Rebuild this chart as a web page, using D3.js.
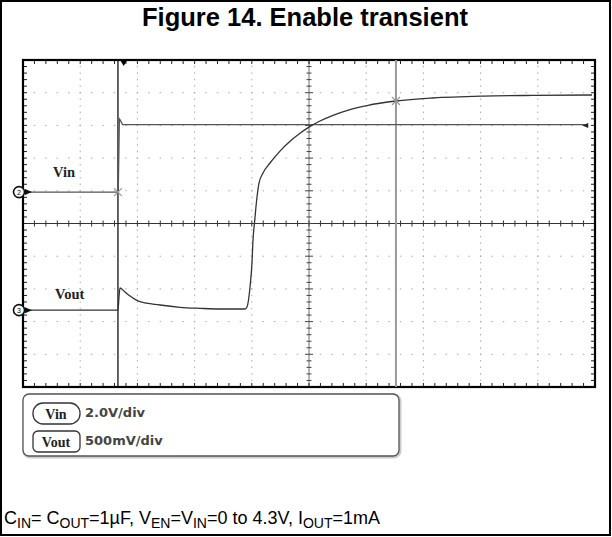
<!DOCTYPE html>
<html><head><meta charset="utf-8">
<script src="https://cdn.jsdelivr.net/npm/d3@7"></script>
<style>
html,body{margin:0;padding:0;background:#fff;}
svg{display:block;}
</style></head>
<body>
<script>
// ---- data (time in scope divisions, voltages in volts) ----
const title = "Figure 14. Enable transient";
const vinTime  = [0, 1.665, 1.685, 1.70, 1.74, 9.83];
const vinVolts = [0, 0, 4.47, 4.40, 4.13, 4.13];
const voutTime  = [0, 1.661, 1.678, 1.696, 1.783, 1.871, 2.045, 2.395, 2.745, 3.094, 3.444, 3.881, 3.916, 3.969, 4.003, 4.021, 4.047, 4.091, 4.126, 4.196, 4.318, 4.493, 4.668, 4.843, 5.0, 5.192, 5.42, 5.717, 6.014, 6.521, 7.168, 8.042, 8.916, 9.948];
const voutVolts = [0, 0, 0.20, 0.339, 0.278, 0.216, 0.129, 0.079, 0.044, 0.028, 0.018, 0.018, 0.048, 0.354, 0.721, 1.073, 1.333, 1.730, 1.944, 2.097, 2.25, 2.432, 2.582, 2.706, 2.799, 2.892, 2.979, 3.067, 3.129, 3.198, 3.244, 3.273, 3.284, 3.29];
const channelNames = ["Vin", "Vout"];
const channelScales = ["2.0V/div", "500mV/div"];
const voltsPerDiv = [2.0, 0.5];
const channelOffsetDiv = [0.96, -2.65];
const channelNumbers = ["2", "3"];
const cursorTimes = [1.66, 6.52];
const triggerTime = 1.76;

const W = 612, H = 537;
const svg = d3.select("body").append("svg").attr("width", W).attr("height", H);

// outer frame
svg.append("rect").attr("x", 1).attr("y", 1).attr("width", W - 3).attr("height", H - 3)
  .attr("fill", "none").attr("stroke", "#000").attr("stroke-width", 2);

svg.append("text").attr("x", 305).attr("y", 26).attr("text-anchor", "middle")
  .attr("font-family", "Liberation Sans, Arial, sans-serif").attr("font-weight", "bold")
  .attr("font-size", 25.5).text(title);

// scales
const x = d3.scaleLinear().domain([0, 10]).range([23, 595]);
const yd = d3.scaleLinear().domain([-5, 5]).range([387, 60]);
const chY = (ci, v) => yd(channelOffsetDiv[ci] + v / voltsPerDiv[ci]);

const g = svg.append("g");
// dotted grid
const majors = d3.range(1, 10);
const minorX = d3.range(0, 10.001, 0.2);
const minorY = d3.range(-5, 5.001, 0.2);
majors.filter(d => d !== 5).forEach(d => {
  minorY.forEach(m => g.append("rect").attr("x", x(d) - 0.5).attr("y", yd(m) - 0.75)
    .attr("width", 1).attr("height", 1.5).attr("fill", "#aaa"));
});
d3.range(-4, 5).filter(d => d !== 0).forEach(d => {
  minorX.forEach(m => g.append("rect").attr("x", x(m) - 0.75).attr("y", yd(d) - 0.5)
    .attr("width", 1.5).attr("height", 1).attr("fill", "#aaa"));
});

// centre axes
g.append("line").attr("x1", x(0)).attr("x2", x(10)).attr("y1", yd(0)).attr("y2", yd(0))
  .attr("stroke", "#333").attr("stroke-width", 1.2);
g.append("line").attr("x1", x(5)).attr("x2", x(5)).attr("y1", yd(-5)).attr("y2", yd(5))
  .attr("stroke", "#888").attr("stroke-width", 1.2);
minorX.forEach(m => g.append("line").attr("x1", x(m)).attr("x2", x(m))
  .attr("y1", yd(0) - 3).attr("y2", yd(0) + 3).attr("stroke", "#333").attr("stroke-width", 1));
minorY.forEach(m => {
  const major = Math.abs(m - Math.round(m)) < 1e-6;
  g.append("line").attr("x1", x(5) - (major ? 4 : 2.5)).attr("x2", x(5) + (major ? 4 : 2.5))
    .attr("y1", yd(m)).attr("y2", yd(m)).attr("stroke", "#444").attr("stroke-width", 1);
});

// frame ticks
minorX.forEach(m => {
  g.append("line").attr("x1", x(m)).attr("x2", x(m)).attr("y1", yd(5)).attr("y2", yd(5) + 4)
    .attr("stroke", "#222").attr("stroke-width", 1);
  g.append("line").attr("x1", x(m)).attr("x2", x(m)).attr("y1", yd(-5)).attr("y2", yd(-5) - 4)
    .attr("stroke", "#222").attr("stroke-width", 1);
});
minorY.forEach(m => {
  g.append("line").attr("x1", x(0)).attr("x2", x(0) + 4).attr("y1", yd(m)).attr("y2", yd(m))
    .attr("stroke", "#222").attr("stroke-width", 1);
  g.append("line").attr("x1", x(10)).attr("x2", x(10) - 4).attr("y1", yd(m)).attr("y2", yd(m))
    .attr("stroke", "#222").attr("stroke-width", 1);
});
g.append("rect").attr("x", x(0)).attr("y", yd(5)).attr("width", x(10) - x(0)).attr("height", yd(-5) - yd(5))
  .attr("fill", "none").attr("stroke", "#000").attr("stroke-width", 2.2);

// cursors
g.append("line").attr("x1", x(cursorTimes[0])).attr("x2", x(cursorTimes[0])).attr("y1", yd(5)).attr("y2", yd(-5))
  .attr("stroke", "#111").attr("stroke-width", 1.3);
g.append("line").attr("x1", x(cursorTimes[1])).attr("x2", x(cursorTimes[1])).attr("y1", yd(5)).attr("y2", yd(-5))
  .attr("stroke", "#999").attr("stroke-width", 2);

// trigger marker
const tx = x(triggerTime);
g.append("path").attr("d", `M${tx - 3},${yd(5) + 1}L${tx + 3},${yd(5) + 1}L${tx},${yd(5) + 6}Z`).attr("fill", "#000");

// traces
const vinData = vinTime.map((t, i) => [t, vinVolts[i]]);
const voutData = voutTime.map((t, i) => [t, voutVolts[i]]);
g.append("path").datum(vinData)
  .attr("d", d3.line().x(d => x(d[0])).y(d => chY(0, d[1])))
  .attr("fill", "none").attr("stroke", "#555").attr("stroke-width", 1.3);
g.append("path").datum(voutData)
  .attr("d", d3.line().curve(d3.curveMonotoneX).x(d => x(d[0])).y(d => chY(1, d[1])))
  .attr("fill", "none").attr("stroke", "#333").attr("stroke-width", 1.3);

// end-of-trace arrow on Vin
const ex = x(vinTime[vinTime.length - 1]), ey = chY(0, vinVolts[vinVolts.length - 1]) + 1;
g.append("path").attr("d", `M${ex - 3},${ey}L${ex + 3},${ey - 2.5}L${ex + 3},${ey + 2.5}Z`).attr("fill", "#222");

// cursor crosses
function cross(cx, cy) {
  g.append("path").attr("d", `M${cx - 4},${cy - 4}L${cx + 4},${cy + 4}M${cx - 4},${cy + 4}L${cx + 4},${cy - 4}`)
    .attr("stroke", "#999").attr("stroke-width", 1.2);
}
cross(x(cursorTimes[0]), chY(0, 0));
const vAtCursor = d3.scaleLinear().domain(voutTime).range(voutVolts)(cursorTimes[1]);
cross(x(cursorTimes[1]), chY(1, vAtCursor));

// channel ground markers and labels
[0, 1].forEach(ci => {
  const cy = chY(ci, 0);
  g.append("circle").attr("cx", 19).attr("cy", cy).attr("r", 5.5).attr("fill", "#fff").attr("stroke", "#111").attr("stroke-width", 1.6);
  g.append("text").attr("x", 19).attr("y", cy + 2.5).attr("text-anchor", "middle").attr("font-size", 7)
    .attr("font-family", "Liberation Sans, Arial, sans-serif").text(channelNumbers[ci]);
  g.append("path").attr("d", `M25,${cy - 3}L32,${cy}L25,${cy + 3}Z`).attr("fill", "#111");
});
g.append("text").attr("x", 53).attr("y", 177).attr("font-family", "Liberation Serif, Times New Roman, serif")
  .attr("font-weight", "bold").attr("font-size", 14.5).attr("fill", "#222").text(channelNames[0]);
g.append("text").attr("x", 55).attr("y", 299).attr("font-family", "Liberation Serif, Times New Roman, serif")
  .attr("font-weight", "bold").attr("font-size", 14.5).attr("fill", "#222").text(channelNames[1]);

// legend box
const lg = svg.append("g");
lg.append("rect").attr("x", 24).attr("y", 395).attr("width", 376).attr("height", 62).attr("rx", 6)
  .attr("fill", "none").attr("stroke", "#ccc").attr("stroke-width", 3);
lg.append("rect").attr("x", 23).attr("y", 394).attr("width", 376).attr("height", 62).attr("rx", 6)
  .attr("fill", "#fff").attr("stroke", "#555").attr("stroke-width", 1.3);
const badgeY = [403, 431];
[0, 1].forEach(ci => {
  lg.append("rect").attr("x", 33).attr("y", badgeY[ci]).attr("width", 47).attr("height", 21).attr("rx", ci === 0 ? 10 : 5)
    .attr("fill", "#fff").attr("stroke", "#333").attr("stroke-width", 1.3);
  lg.append("text").attr("x", 56).attr("y", badgeY[ci] + 15.5).attr("text-anchor", "middle")
    .attr("font-family", "Liberation Serif, Times New Roman, serif").attr("font-weight", "bold")
    .attr("font-size", 14).attr("fill", "#222").text(channelNames[ci]);
  lg.append("text").attr("x", 85).attr("y", badgeY[ci] + 14).attr("font-family", "DejaVu Sans, Verdana, sans-serif")
    .attr("font-weight", "bold").attr("font-size", 13).attr("fill", "#444").text(channelScales[ci]);
});

// footnote
const fn = svg.append("text").attr("x", 4).attr("y", 524)
  .attr("font-family", "Liberation Sans, Arial, sans-serif").attr("font-size", 18).attr("fill", "#000");
const parts = [["C", 0], ["IN", 1], ["= C", 0], ["OUT", 1], ["=1\u00b5F, V", 0], ["EN", 1], ["=V", 0], ["IN", 1],
  ["=0 to 4.3V, I", 0], ["OUT", 1], ["=1mA", 0]];
let prevSub = 0;
parts.forEach(([s, sub]) => {
  const ts = fn.append("tspan").text(s);
  if (sub) ts.attr("font-size", 14);
  const dy = (sub ? 4 : 0) - (prevSub ? 4 : 0);
  if (dy) ts.attr("dy", dy);
  prevSub = sub;
});
</script>
</body></html>
